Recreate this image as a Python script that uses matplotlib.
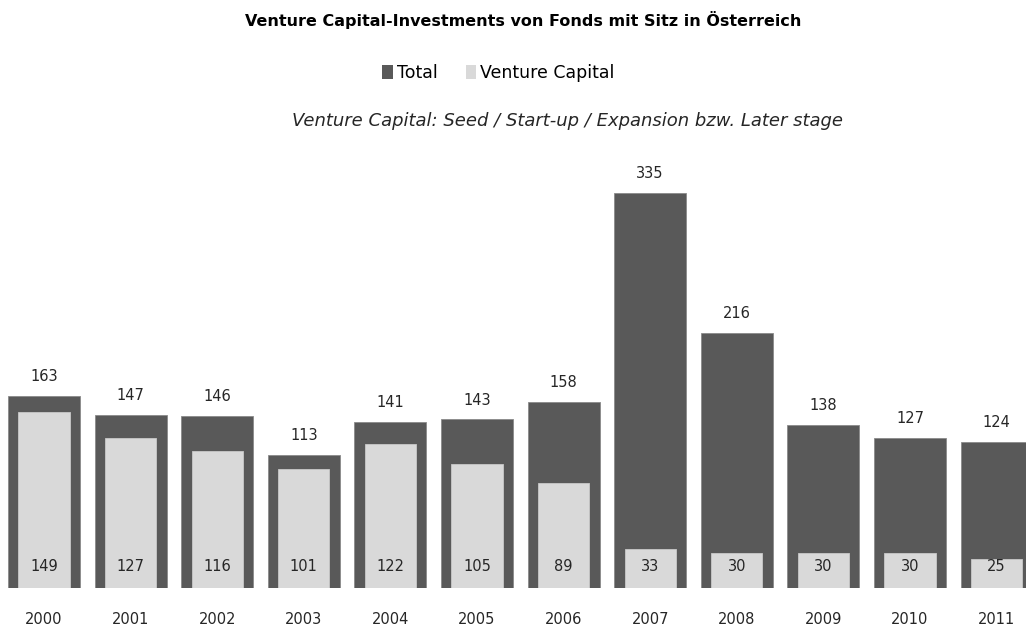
import numpy as np
import matplotlib
matplotlib.use("Agg")
import matplotlib.pyplot as plt
from matplotlib.patches import Patch

years = ["2000", "2001", "2002", "2003", "2004", "2005",
         "2006", "2007", "2008", "2009", "2010", "2011"]
total = [163, 147, 146, 113, 141, 143, 158, 335, 216, 138, 127, 124]
venture = [149, 127, 116, 101, 122, 105, 89, 33, 30, 30, 30, 25]

DARK = "#595959"
LIGHT = "#d9d9d9"

plt.rcParams['font.family'] = ['DejaVu Sans']

fig = plt.figure(figsize=(10.26, 6.35), dpi=100)
# axes placed so the baseline and bar spacing line up with the reference
ax = fig.add_axes([0.0, 47 / 635, 1.0, 401 / 635])

x = np.arange(len(years))
ax.bar(x, total, width=0.83, color=DARK, edgecolor="#8a8a8a", linewidth=0.6,
       label="Total", zorder=2)
ax.bar(x, venture, width=0.59, color=LIGHT, edgecolor="#c8c8c8", linewidth=0.6,
       label="Venture Capital", zorder=3)

for xi, t, v in zip(x, total, venture):
    ax.text(xi, t + 10, str(t), ha="center", va="bottom", fontsize=10.5,
            color="#262626")
    ax.text(xi, 18.5, str(v), ha="center", va="center", fontsize=10.5,
            color="#262626", zorder=4)

ax.set_xlim(-0.508, 11.34)
ax.set_ylim(0, 340)
ax.set_yticks([])
ax.set_xticks(x)
ax.set_xticklabels(years, fontsize=10.5, color="#262626")
ax.tick_params(axis="x", length=0, pad=17)
for s in ax.spines.values():
    s.set_visible(False)

fig.text(0.510, 1 - 20 / 635, "Venture Capital-Investments von Fonds mit Sitz in Österreich",
         ha="center", va="center", fontsize=11.5, fontweight="bold", color="black")

handles = [Patch(facecolor=DARK, label="Total"),
           Patch(facecolor=LIGHT, label="Venture Capital")]
fig.legend(handles=handles, loc="center", bbox_to_anchor=(0.486, 1 - 73 / 635),
           ncol=2, frameon=False, fontsize=12.5, handlelength=0.6, handleheight=0.8,
           handletextpad=0.25, columnspacing=1.6)

fig.text(0.553, 1 - 121 / 635,
         "Venture Capital: Seed / Start-up / Expansion bzw. Later stage",
         ha="center", va="center", fontsize=13, style="italic", color="#262626")

fig.savefig("out.png", dpi=100)
